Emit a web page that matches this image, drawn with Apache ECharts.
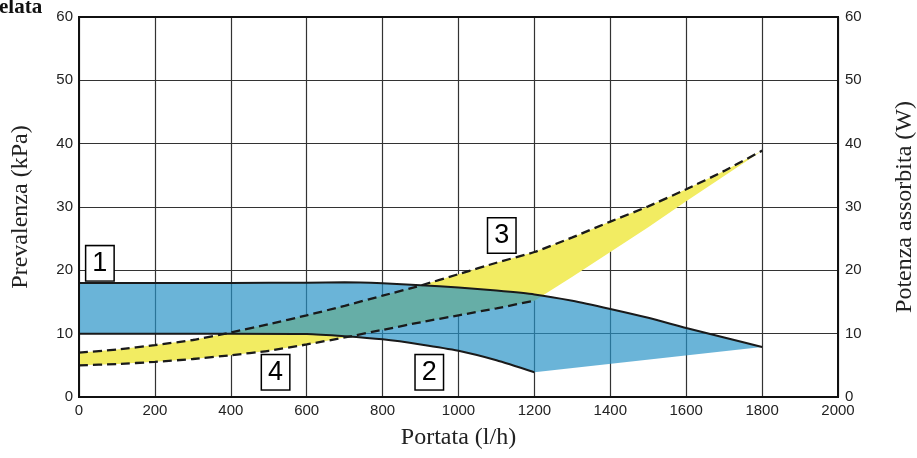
<!DOCTYPE html>
<html>
<head>
<meta charset="utf-8">
<script src="https://cdn.jsdelivr.net/npm/echarts@6/dist/echarts.min.js"></script>
<style>html,body{margin:0;padding:0;background:#fff}#c{width:917px;height:458px}</style>
</head>
<body>
<div id="c"></div>
<script>
// ---- data (flow l/h, value) ----
var curve1 = [[0,18],[200,18],[400,18],[600,18.05],[700,18.1],[800,17.95],[900,17.65],[1000,17.3],[1100,16.8],[1200,16.2],[1300,15.2],[1400,13.9],[1500,12.5],[1600,10.9],[1700,9.4],[1800,7.9]];
var curve2 = [[0,10],[200,10],[400,10],[600,9.95],[700,9.6],[800,9.1],[900,8.3],[1000,7.3],[1100,5.8],[1200,3.9]];
var blueLimit = [[1200,3.9],[1800,7.9]];
var power3 = [[0,7.0],[100,7.5],[200,8.2],[300,9.0],[400,10.2],[500,11.5],[600,12.9],[700,14.4],[800,16.0],[900,17.6],[1000,19.4],[1100,21.2],[1200,22.9],[1300,25.2],[1400,27.7],[1500,30.1],[1600,32.8],[1700,35.7],[1800,38.9]];
var power4 = [[0,5.0],[100,5.2],[200,5.55],[300,6.0],[400,6.6],[500,7.3],[600,8.3],[700,9.4],[800,10.6],[900,11.8],[1000,12.9],[1100,14.0],[1200,15.2]];
var yellowLimit = [[1200,15.2],[1300,19.0],[1400,22.9],[1500,26.8],[1600,30.9],[1700,34.9],[1800,38.9]];
var xTicks = [0,200,400,600,800,1000,1200,1400,1600,1800,2000];
var yTicks = [0,10,20,30,40,50,60];
var callouts = [{name:'1', value:[55,21.1]},{name:'2', value:[923,3.9]},{name:'3', value:[1114,25.5]},{name:'4', value:[518,3.9]}];

var blueRegion = curve1.concat(blueLimit.slice().reverse(), curve2.slice().reverse());
var yellowRegion = power3.concat(yellowLimit.slice().reverse(), power4.slice().reverse());

function polySeries(region, fill, yIdx) {
  return {
    type: 'custom', yAxisIndex: yIdx, silent: true, z: 1,
    data: [0],
    renderItem: function (params, api) {
      var pts = region.map(function (p) { return api.coord(p); });
      return { type: 'polygon', shape: { points: pts }, style: { fill: fill, stroke: null } };
    }
  };
}

var serif = "'Liberation Serif', 'DejaVu Serif', serif";
var sans = "'Liberation Sans', Arial, sans-serif";
var plain = function (v) { return String(v); };
var chart = echarts.init(document.getElementById('c'), null, {renderer: 'canvas'});
chart.setOption({
  animation: false,
  backgroundColor: '#fff',
  grid: { left: 79, right: 79, top: 17, bottom: 61, outerBoundsMode: 'none', containLabel: false, show: true, borderColor: '#111', borderWidth: 2, backgroundColor: 'transparent', z: 5 },
  graphic: [{ type: 'text', left: -1, top: -3, style: { text: 'elata', font: "bold 21px " + serif, fill: '#111' } }],
  xAxis: {
    type: 'value', min: 0, max: 2000, interval: 200,
    name: 'Portata (l/h)', nameLocation: 'middle', nameGap: 29,
    nameTextStyle: { fontFamily: serif, fontSize: 24, color: '#222' },
    axisLine: { show: true, lineStyle: { color: '#111', width: 2 } },
    axisTick: { show: false },
    axisLabel: { margin: 6, fontFamily: sans, fontSize: 15, color: '#222', formatter: plain },
    splitLine: { show: true, lineStyle: { color: '#333', width: 1.2 } }
  },
  yAxis: [{
    type: 'value', min: 0, max: 60, interval: 10,
    name: 'Prevalenza (kPa)', nameLocation: 'middle', nameGap: 46,
    nameTextStyle: { fontFamily: serif, fontSize: 24, color: '#222' },
    axisLine: { show: true, lineStyle: { color: '#111', width: 2 } },
    axisTick: { show: false },
    axisLabel: { margin: 6, fontFamily: sans, fontSize: 15, color: '#222', formatter: plain },
    splitLine: { show: true, lineStyle: { color: '#333', width: 1.2 } }
  }, {
    type: 'value', min: 0, max: 60, interval: 10, position: 'right',
    name: 'Potenza assorbita (W)', nameLocation: 'middle', nameGap: 55,
    nameTextStyle: { fontFamily: serif, fontSize: 24, color: '#222' },
    axisLine: { show: true, lineStyle: { color: '#111', width: 2 } },
    axisTick: { show: false },
    axisLabel: { margin: 7, fontFamily: sans, fontSize: 15, color: '#222', formatter: plain },
    splitLine: { show: false }
  }],
  series: [
    polySeries(yellowRegion, '#f2ec62', 1),
    polySeries(blueRegion, 'rgba(39,146,198,0.69)', 0),
    { type: 'line', yAxisIndex: 0, data: curve1, showSymbol: false, smooth: 0.2, z: 3, lineStyle: { color: '#1a1a1a', width: 2 } },
    { type: 'line', yAxisIndex: 0, data: curve2, showSymbol: false, smooth: 0.2, z: 3, lineStyle: { color: '#1a1a1a', width: 2 } },
    { type: 'line', yAxisIndex: 1, data: power3, showSymbol: false, smooth: 0.2, z: 3, lineStyle: { color: '#1a1a1a', width: 2.3, type: [9, 5] } },
    { type: 'line', yAxisIndex: 1, data: power4, showSymbol: false, smooth: 0.2, z: 3, lineStyle: { color: '#1a1a1a', width: 2.3, type: [9, 5] } },
    { type: 'scatter', yAxisIndex: 0, data: callouts, symbol: 'rect', symbolSize: 2, itemStyle: { color: 'rgba(0,0,0,0)', opacity: 1 }, z: 6,
      label: { show: true, position: 'inside', formatter: '{b}', fontFamily: sans, fontSize: 27, color: '#000',
        backgroundColor: '#fff', borderColor: '#000', borderWidth: 1.5, padding: [3, 6, 3, 6], lineHeight: 28 } }
  ]
});
</script>
</body>
</html>
